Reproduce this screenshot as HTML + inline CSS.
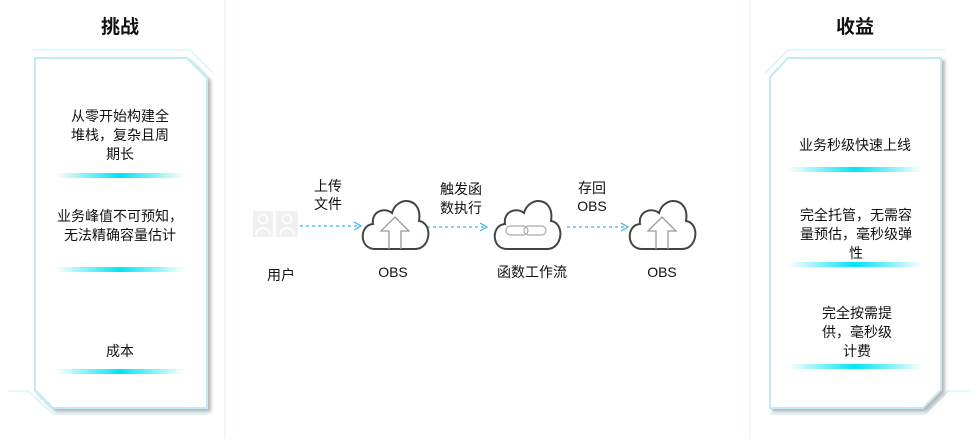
<!DOCTYPE html>
<html><head><meta charset="utf-8"><style>
html,body{margin:0;padding:0;background:#fff;}
svg text{font-family:"Liberation Sans","Noto Sans CJK SC",sans-serif;fill:#111;}
</style></head><body>
<svg width="978" height="439" viewBox="0 0 978 439" xmlns="http://www.w3.org/2000/svg">
<defs>
<linearGradient id="gl" x1="0" x2="1"><stop offset="0" stop-color="#00e0f0" stop-opacity="0"/><stop offset="0.5" stop-color="#00e4f4"/><stop offset="1" stop-color="#00e0f0" stop-opacity="0"/></linearGradient>
<filter id="sh" x="-10%" y="-10%" width="130%" height="130%"><feDropShadow dx="3" dy="3" stdDeviation="1.5" flood-color="#888" flood-opacity="0.6"/></filter>
<marker id="ar" markerWidth="10" markerHeight="10" refX="8" refY="5" orient="auto" markerUnits="userSpaceOnUse"><path d="M1,1 L8,5 L1,9" fill="none" stroke="#3bb5e8" stroke-width="1.2"/></marker>
<g id="cloud"><path d="M-20,24 C-36,24 -36,0 -22,-1 C-24,-14 -10,-18 -3,-12 C2,-30 28,-28 24,-4 C38,-2 36,24 20,24 Z" fill="#fff" stroke="#444" stroke-width="2"/></g>
</defs>
<line x1="225" y1="0" x2="225" y2="439" stroke="#eef8fc" stroke-width="2"/>
<line x1="750" y1="0" x2="750" y2="439" stroke="#eef8fc" stroke-width="2"/>
<!-- left -->
<text x="120" y="33" font-size="19" font-weight="bold" text-anchor="middle">挑战</text>
<path d="M33,50 L190,50 L212,72" fill="none" stroke="#c8f0fa" stroke-width="1"/>
<path d="M8,391 L28,391 L53,414 L207,414" fill="none" stroke="#c8f0fa" stroke-width="1"/>
<path d="M35,58 L187,58 L207,78 L207,408 L53,408 L35,390 Z" fill="#fff" stroke="#bfeaf6" stroke-width="2" filter="url(#sh)"/>
<g font-size="14" text-anchor="middle">
<text x="120" y="121">从零开始构建全</text><text x="120" y="140">堆栈，复杂且周</text><text x="120" y="159">期长</text>
<text x="120" y="221">业务峰值不可预知，</text><text x="120" y="240">无法精确容量估计</text>
<text x="120" y="356">成本</text>
</g>
<rect x="55" y="173" width="130" height="5" rx="2.5" fill="url(#gl)"/>
<rect x="55" y="267" width="130" height="5" rx="2.5" fill="url(#gl)"/>
<rect x="55" y="369" width="130" height="5" rx="2.5" fill="url(#gl)"/>
<!-- right -->
<text x="855" y="33" font-size="19" font-weight="bold" text-anchor="middle">收益</text>
<path d="M765,73 L788,50 L945,50" fill="none" stroke="#c8f0fa" stroke-width="1"/>
<path d="M770,414 L925,414 L948,391 L970,391" fill="none" stroke="#c8f0fa" stroke-width="1"/>
<path d="M788,58 L941,58 L941,390 L923,408 L770,408 L770,77 Z" fill="#fff" stroke="#bfeaf6" stroke-width="2" filter="url(#sh)"/>
<g font-size="14" text-anchor="middle">
<text x="855" y="150">业务秒级快速上线</text>
<text x="856" y="220">完全托管，无需容</text><text x="856" y="239">量预估，毫秒级弹</text><text x="856" y="258">性</text>
<text x="857" y="318">完全按需提</text><text x="857" y="337">供，毫秒级</text><text x="857" y="356">计费</text>
</g>
<rect x="788" y="167" width="135" height="5" rx="2.5" fill="url(#gl)"/>
<rect x="788" y="262" width="135" height="5" rx="2.5" fill="url(#gl)"/>
<rect x="788" y="364" width="135" height="5" rx="2.5" fill="url(#gl)"/>
<!-- middle -->
<g fill="#f0f0f0">
<rect x="253" y="211" width="20" height="26"/><rect x="276" y="211" width="22" height="26"/>
</g>
<g fill="none" stroke="#fff" stroke-width="1.5">
<circle cx="263" cy="219" r="4.5"/><path d="M256,235 C256,226 270,226 270,235"/>
<circle cx="287" cy="219" r="4.5"/><path d="M280,235 C280,226 294,226 294,235"/>
</g>
<text x="281" y="280" font-size="14" text-anchor="middle">用户</text>
<g stroke="#3bb5e8" stroke-width="1.3" stroke-dasharray="3,3" fill="none">
<line x1="300" y1="226" x2="361" y2="226" marker-end="url(#ar)"/>
<line x1="427" y1="227" x2="487" y2="227" marker-end="url(#ar)"/>
<line x1="567" y1="227" x2="628" y2="227" marker-end="url(#ar)"/>
</g>
<use href="#cloud" x="395" y="225"/>
<path d="M389,249 L389,231 L381,231 L395,217 L409,231 L401,231 L401,249" fill="none" stroke="#999" stroke-width="1.3"/>
<use href="#cloud" x="527" y="225"/>
<rect x="506" y="226" width="22" height="9" rx="4.5" fill="none" stroke="#aaa" stroke-width="1.2"/>
<rect x="524" y="226" width="22" height="9" rx="4.5" fill="none" stroke="#aaa" stroke-width="1.2"/>
<use href="#cloud" x="662" y="225"/>
<path d="M656,249 L656,231 L648,231 L662,217 L676,231 L668,231 L668,249" fill="none" stroke="#999" stroke-width="1.3"/>
<g font-size="14" text-anchor="middle">
<text x="393" y="277">OBS</text><text x="532" y="277">函数工作流</text><text x="662" y="277">OBS</text>
<text x="328" y="191">上传</text><text x="328" y="209">文件</text>
<text x="461" y="194">触发函</text><text x="461" y="213">数执行</text>
<text x="592" y="193">存回</text><text x="592" y="211">OBS</text>
</g>
</svg>
</body></html>
